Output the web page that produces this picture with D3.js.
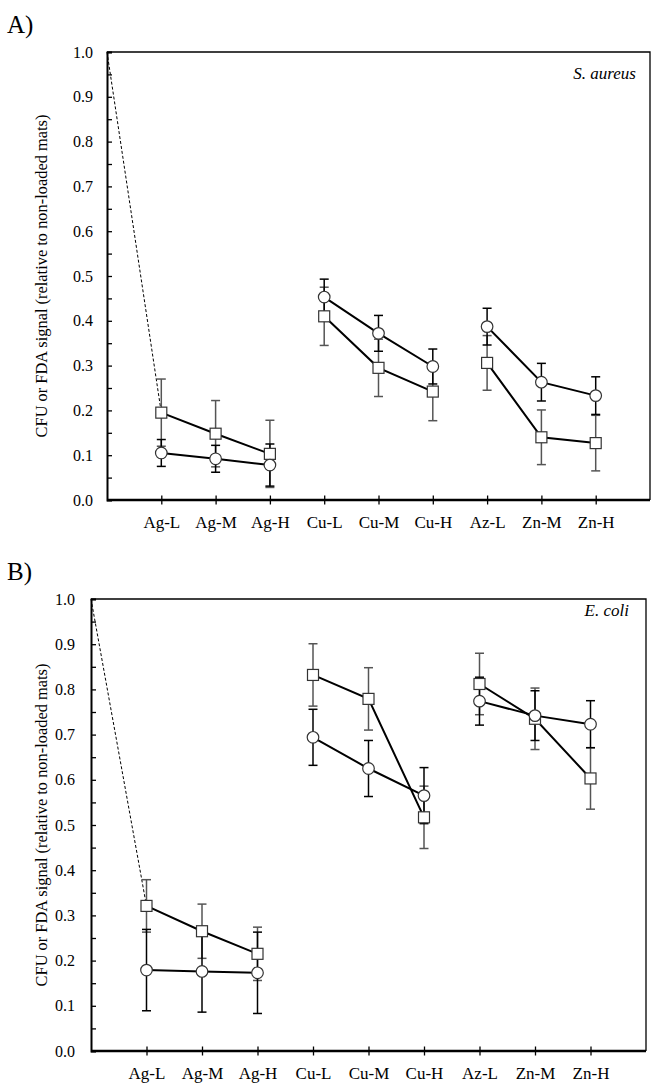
<!DOCTYPE html>
<head>
  <style>
    body { margin: 0; background: #fff; }
    svg text { font-family: "Liberation Serif", "Times New Roman", serif; fill: #000; }
  </style>
</head>
<body>
  <script src="https://cdn.jsdelivr.net/npm/d3@7"></script>
  <script>
    // categories on the x axis (positions 1..9, 0 = non-loaded control)
    var categories = ["Ag-L", "Ag-M", "Ag-H", "Cu-L", "Cu-M", "Cu-H", "Az-L", "Zn-M", "Zn-H"]
    var groups = [[0, 1, 2], [3, 4, 5], [6, 7, 8]]
    var controlValue = 1.0
    var yTicks = [0, 0.1, 0.2, 0.3, 0.4, 0.5, 0.6, 0.7, 0.8, 0.9, 1.0]

    // A) S. aureus
    var aSquare    = [0.195, 0.148, 0.103, 0.410, 0.295, 0.242, 0.306, 0.140, 0.127]
    var aSquareErr = [0.075, 0.074, 0.075, 0.065, 0.064, 0.065, 0.061, 0.061, 0.062]
    var aCircle    = [0.105, 0.092, 0.078, 0.453, 0.372, 0.298, 0.387, 0.263, 0.233]
    var aCircleErr = [0.030, 0.030, 0.047, 0.040, 0.040, 0.039, 0.041, 0.042, 0.042]

    // B) E. coli
    var bSquare    = [0.321, 0.265, 0.215, 0.832, 0.779, 0.517, 0.812, 0.735, 0.603]
    var bSquareErr = [0.058, 0.060, 0.059, 0.069, 0.069, 0.069, 0.068, 0.068, 0.068]
    var bCircle    = [0.179, 0.176, 0.173, 0.694, 0.625, 0.565, 0.774, 0.742, 0.723]
    var bCircleErr = [0.090, 0.090, 0.090, 0.062, 0.062, 0.062, 0.053, 0.055, 0.052]

    var w = 651
    var h = 1086
    var yTitle = "CFU or FDA signal (relative to non-loaded mats)"

    var svg = d3.select("body")
                .append("svg")
                .attr("width", w)
                .attr("height", h)

    function drawPanel(p) {
      var g = svg.append("g")

      var x = d3.scaleLinear()
                .domain([0, categories.length + 1])
                .range([p.left, p.right])
      var y = d3.scaleLinear()
                .domain([0, 1])
                .range([p.bottom, p.top])

      // panel letter
      g.append("text")
        .attr("x", 7)
        .attr("y", p.letterY)
        .attr("font-size", "25px")
        .text(p.letter)

      // top and right frame
      g.append("path")
        .attr("d", "M" + p.left + "," + p.top + "H" + p.right + "V" + p.bottom)
        .attr("fill", "none")
        .attr("stroke", "#000")
        .attr("stroke-width", 1.3)

      // y axis, ticks every 0.05 pointing inwards
      var yAxis = d3.axisLeft(y)
                    .tickValues(d3.range(0, 21).map(function(i) { return i / 20 }))
                    .tickSize(-5)
                    .tickPadding(p.yPad)
                    .tickFormat(function(d) {
                      return yTicks.some(function(t) { return Math.abs(t - d) < 1e-6 }) ? d3.format(".1f")(d) : ""
                    })
      var ya = g.append("g")
                .attr("transform", "translate(" + p.left + ",0)")
                .call(yAxis)
      ya.select(".domain").attr("stroke-width", 2)
      ya.selectAll("line").attr("stroke-width", 1.3)
      ya.selectAll("text").attr("font-size", "16px")

      // x axis with crossing ticks
      var xAxis = d3.axisBottom(x)
                    .tickValues(d3.range(1, categories.length + 1))
                    .tickSize(4.5)
                    .tickPadding(p.xPad)
                    .tickFormat(function(d) { return categories[d - 1] })
      var xa = g.append("g")
                .attr("transform", "translate(0," + p.bottom + ")")
                .call(xAxis)
      xa.select(".domain").attr("stroke-width", 2.5).attr("d", "M" + p.left + ",0H" + p.right)
      xa.selectAll(".tick line").attr("y1", -4.5).attr("stroke-width", 1.3)
      xa.selectAll("text").attr("font-size", "17px")

      // y axis title
      g.append("text")
        .attr("transform", "translate(" + p.titleX + "," + ((p.top + p.bottom) / 2) + ") rotate(-90)")
        .attr("text-anchor", "middle")
        .attr("font-size", "16.4px")
        .text(yTitle)

      // species label
      g.append("text")
        .attr("x", p.speciesX)
        .attr("y", p.speciesY)
        .attr("text-anchor", "end")
        .attr("font-style", "italic")
        .attr("font-size", "17px")
        .text(p.species)

      // dashed line from the control to the first point
      g.append("line")
        .attr("x1", x(0))
        .attr("y1", y(controlValue))
        .attr("x2", x(1))
        .attr("y2", y(p.square[0]))
        .attr("stroke", "#000")
        .attr("stroke-width", 1)
        .attr("stroke-dasharray", "3,2")

      var series = [
        { vals: p.square, err: p.squareErr, shape: "square", errColor: "#555" },
        { vals: p.circle, err: p.circleErr, shape: "circle", errColor: "#000" }
      ]

      // error bars
      series.forEach(function(s) {
        var eb = g.append("g")
        s.vals.forEach(function(v, i) {
          var cx = x(i + 1)
          var lo = y(v - s.err[i])
          var hi = y(v + s.err[i])
          eb.append("line").attr("x1", cx).attr("x2", cx).attr("y1", lo).attr("y2", hi)
          eb.append("line").attr("x1", cx - 4.5).attr("x2", cx + 4.5).attr("y1", lo).attr("y2", lo)
          eb.append("line").attr("x1", cx - 4.5).attr("x2", cx + 4.5).attr("y1", hi).attr("y2", hi)
        })
        eb.selectAll("line").attr("stroke", s.errColor).attr("stroke-width", 1.5)
      })

      // lines and markers
      var line = d3.line()
                   .x(function(d) { return x(d + 1) })
      series.forEach(function(s) {
        line.y(function(d) { return y(s.vals[d]) })
        groups.forEach(function(grp) {
          g.append("path")
            .attr("d", line(grp))
            .attr("fill", "none")
            .attr("stroke", "#000")
            .attr("stroke-width", 2)
        })
      })
      series.forEach(function(s) {
        s.vals.forEach(function(v, i) {
          if (s.shape == "square") {
            g.append("rect")
              .attr("x", x(i + 1) - 5.5)
              .attr("y", y(v) - 5.5)
              .attr("width", 11)
              .attr("height", 11)
              .attr("fill", "#fff")
              .attr("stroke", "#333")
              .attr("stroke-width", 1.2)
          } else {
            g.append("circle")
              .attr("cx", x(i + 1))
              .attr("cy", y(v))
              .attr("r", 5.8)
              .attr("fill", "#fff")
              .attr("stroke", "#333")
              .attr("stroke-width", 1.2)
          }
        })
      })
    }

    drawPanel({
      letter: "A)", letterY: 33,
      left: 107, right: 650, top: 52, bottom: 500,
      yPad: 14, xPad: 11.5, titleX: 47,
      species: "S. aureus", speciesX: 636, speciesY: 79,
      square: aSquare, squareErr: aSquareErr, circle: aCircle, circleErr: aCircleErr
    })

    drawPanel({
      letter: "B)", letterY: 580,
      left: 91, right: 646, top: 599, bottom: 1051,
      yPad: 16, xPad: 11, titleX: 47,
      species: "E. coli", speciesX: 629, speciesY: 616,
      square: bSquare, squareErr: bSquareErr, circle: bCircle, circleErr: bCircleErr
    })
  </script>
</body>
